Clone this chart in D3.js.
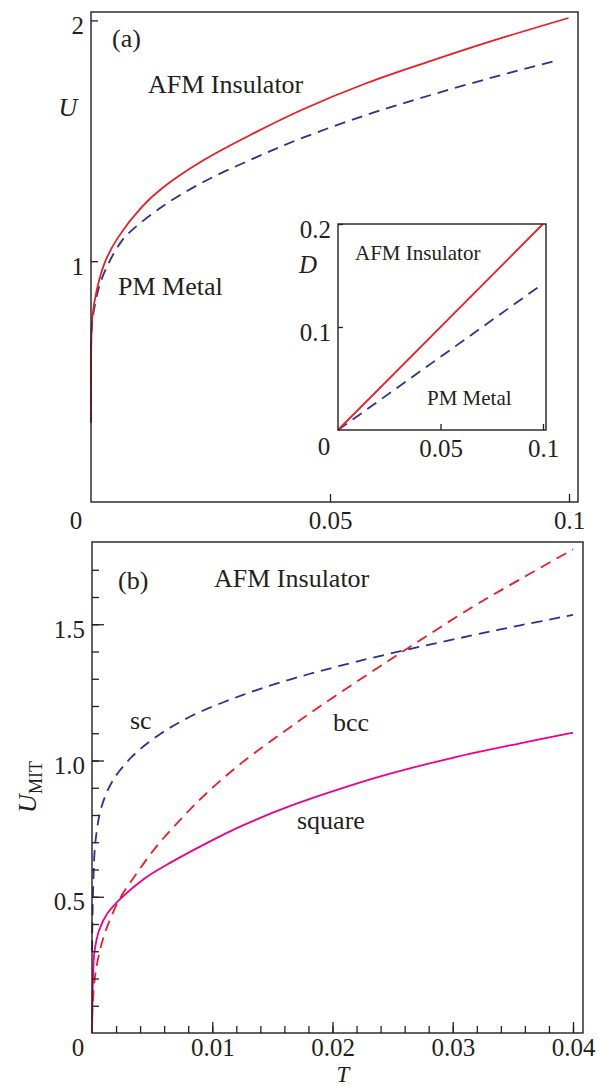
<!DOCTYPE html>
<html>
<head>
  <meta charset="utf-8">
  <title>U vs T phase diagram</title>
  <script src="https://d3js.org/d3.v7.min.js"></script>
  <style>
    body { margin: 0; background: #fff; }
    text { font-family: "Liberation Serif", "Times New Roman", serif; fill: #231f20; }
  </style>
</head>
<body>
<div id="chart"></div>
<script>

// ---- data ----
// panel (a): U against T, [T, U]
const aAfmSolid = [[0,0.33],[0,0.55],[0.0001,0.70],[0.0003,0.77],[0.0012,0.88],[0.003,1.0],[0.0057,1.10],
  [0.0106,1.225],[0.015,1.305],[0.0236,1.42],[0.0344,1.535],[0.0437,1.625],[0.0577,1.74],[0.0716,1.835],
  [0.0856,1.925],[0.0999,2.01]];
const aAfmDashed = [[0,0.33],[0,0.55],[0.0001,0.70],[0.0005,0.783],[0.0019,0.907],[0.004,1.004],[0.0061,1.075],
  [0.0078,1.115],[0.015,1.228],[0.0236,1.33],[0.0344,1.43],[0.0437,1.508],[0.0577,1.608],[0.0716,1.693],
  [0.0856,1.772],[0.0978,1.835]];
// inset: D against T
const insetSolid = [[0,0],[0.1,0.2]];
const insetDashed = [[0,0],[0.1,0.142]];
// panel (b): U_MIT against T
const bSc = [[0,0.3],[0.0001,0.54],[0.0003,0.708],[0.0008,0.831],[0.0017,0.924],[0.0033,1.013],[0.0055,1.092],
  [0.0083,1.164],[0.0125,1.24],[0.0166,1.299],[0.0205,1.346],[0.0263,1.408],[0.0314,1.457],
  [0.0356,1.496],[0.04,1.534]];
const bBcc = [[0,0.05],[0.0002,0.188],[0.0005,0.272],[0.0011,0.37],[0.0022,0.484],[0.0038,0.591],[0.0055,0.692],
  [0.0075,0.79],[0.0095,0.879],[0.0125,0.993],[0.0166,1.126],[0.019,1.2],[0.0231,1.321],
  [0.0263,1.413],[0.0314,1.557],[0.0356,1.665],[0.04,1.775]];
const bSquare = [[0,0],[0.00005,0.148],[0.0001,0.219],[0.0002,0.296],[0.0006,0.378],[0.0013,0.44],[0.0024,0.494],
  [0.0044,0.568],[0.0066,0.627],[0.0095,0.696],[0.0125,0.761],[0.0166,0.835],[0.0205,0.894],[0.0245,0.948],
  [0.03,1.01],[0.0356,1.063],[0.04,1.102]];

// ticks and labels
const aYTicks = [1, 2], aYLabels = ["1", "2"];
const aXTicks = [0.05, 0.1], aXLabels = ["0.05", "0.1"];
const inYTicks = [0.1, 0.2], inYLabels = ["0.1", "0.2"];
const inXTicks = [0.05, 0.1], inXLabels = ["0.05", "0.1"];
const bYMajor = [0.5, 1.0, 1.5], bYLabels = ["0.5", "1.0", "1.5"];
const bYMinor = d3.range(1, 18).map(i => i / 10);
const bXMajor = [0.01, 0.02, 0.03, 0.04], bXLabels = ["0.01", "0.02", "0.03", "0.04"];
const bXMinor = d3.range(1, 21).map(i => i * 0.002);

const RED = "#ee1c24", BLUE = "#2e3192", MAGENTA = "#ec008c", INK = "#231f20";

const svg = d3.select("#chart").append("svg")
  .attr("width", 598).attr("height", 1087);

// scales
const xA = d3.scaleLinear().domain([0, 0.1]).range([91, 569]);
const yA = d3.scaleLinear().domain([0, 2]).range([502, 20.4]);
const xI = d3.scaleLinear().domain([0, 0.1]).range([338, 543]);
const yI = d3.scaleLinear().domain([0, 0.2]).range([430, 224]);
const xB = d3.scaleLinear().domain([0, 0.04]).range([92, 573]);
const yB = d3.scaleLinear().domain([0, 1.5]).range([1033, 624.25]);

function frame(x0, y0, x1, y1) {
  svg.append("rect")
    .attr("x", x0).attr("y", y0).attr("width", x1 - x0).attr("height", y1 - y0)
    .attr("fill", "none").attr("stroke", INK).attr("stroke-width", 1.4);
}

// left axis with inward ticks
function leftAxis(y, x0, vals, labels, size, fs) {
  const g = svg.append("g").attr("transform", `translate(${x0},0)`)
    .call(d3.axisLeft(y).tickValues(vals).tickSize(-size).tickPadding(7)
      .tickFormat(labels ? (d, i) => labels[i] : ""));
  g.select(".domain").remove();
  g.selectAll("line").attr("stroke", INK).attr("stroke-width", 1.3);
  g.selectAll("text").attr("font-size", fs).attr("transform", "translate(0,5)");
  return g;
}

function bottomAxis(x, y0, vals, labels, size, fs, pad) {
  const g = svg.append("g").attr("transform", `translate(0,${y0})`)
    .call(d3.axisBottom(x).tickValues(vals).tickSize(-size).tickPadding(pad || 9)
      .tickFormat(labels ? (d, i) => labels[i] : ""));
  g.select(".domain").remove();
  g.selectAll("line").attr("stroke", INK).attr("stroke-width", 1.3);
  g.selectAll("text").attr("font-size", fs);
  return g;
}

function curve(data, x, y, color, dashed) {
  svg.append("path")
    .datum(data)
    .attr("fill", "none")
    .attr("stroke", color)
    .attr("stroke-width", 1.8)
    .attr("stroke-dasharray", dashed ? "11,7" : null)
    .attr("d", d3.line().x(d => x(d[0])).y(d => y(d[1])).curve(d3.curveCatmullRom.alpha(0.5)));
}

function label(txt, x, y, fs, opts = {}) {
  return svg.append("text").attr("x", x).attr("y", y)
    .attr("font-size", fs)
    .attr("text-anchor", opts.anchor || "start")
    .attr("font-style", opts.italic ? "italic" : null)
    .text(txt);
}

// ---------- panel (a) ----------
curve(aAfmDashed, xA, yA, BLUE, true);
curve(aAfmSolid, xA, yA, RED, false);
frame(91, 12, 578, 502);
leftAxis(yA, 91, aYTicks, aYLabels, 7, 25);
bottomAxis(xA, 502, aXTicks, aXLabels, 8, 25);
label("0", xA(0) - 15, yA(0) + 27, 25, {anchor: "middle"});
label("U", 68, 116, 26, {anchor: "middle", italic: true});
label("(a)", 112, 47, 26);
label("AFM Insulator", 148, 93, 26);
label("PM Metal", 118, 295, 26);

// inset
svg.append("rect").attr("x", 338).attr("y", 224).attr("width", 208).attr("height", 206).attr("fill", "#fff");
curve(insetDashed, xI, yI, BLUE, true);
curve(insetSolid, xI, yI, RED, false);
frame(338, 224, 546, 430);
leftAxis(yI, 338, inYTicks, inYLabels, 5, 25);
bottomAxis(xI, 430, inXTicks, inXLabels, 6, 25);
label("0", xI(0) - 14, yI(0) + 25, 25, {anchor: "middle"});
label("D", 308, 273, 25, {anchor: "middle", italic: true});
label("AFM Insulator", 355, 260, 21);
label("PM Metal", 427, 405, 21);

// ---------- panel (b) ----------
curve(bSquare, xB, yB, MAGENTA, false);
curve(bBcc, xB, yB, RED, true);
curve(bSc, xB, yB, BLUE, true);
frame(92, 542, 583, 1033);
leftAxis(yB, 92, bYMinor, null, 7, 25);
leftAxis(yB, 92, bYMajor, bYLabels, 12, 25);
bottomAxis(xB, 1033, bXMinor, null, 7, 25, 5);
bottomAxis(xB, 1033, bXMajor, bXLabels, 11, 25, 5);
label("0", xB(0) - 14, yB(0) + 23, 25, {anchor: "middle"});
label("T", 343, 1082, 23, {anchor: "middle", italic: true});
label("(b)", 118, 589, 26);
label("AFM Insulator", 214, 587, 26);
label("sc", 130, 729, 26);
label("bcc", 333, 731, 26);
label("square", 297, 829, 26);

const ylab = svg.append("text")
  .attr("transform", "translate(36,787) rotate(-90)")
  .attr("text-anchor", "middle");
ylab.append("tspan").attr("font-size", 26).attr("font-style", "italic").text("U");
ylab.append("tspan").attr("font-size", 18).attr("dy", 6).text("MIT");

</script>
</body>
</html>
